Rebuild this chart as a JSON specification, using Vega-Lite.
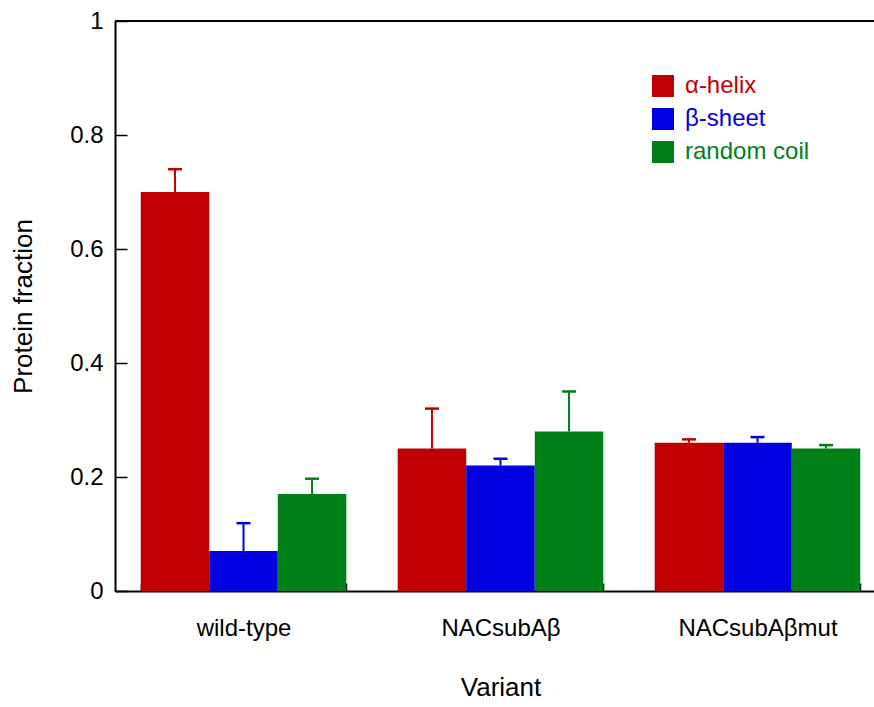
{
  "$schema": "https://vega.github.io/schema/vega-lite/v6.json",
  "autosize": {"type": "none"},
  "padding": {"left": 115, "top": 21, "right": 0, "bottom": 116},
  "width": 759,
  "height": 570,
  "background": "white",
  "config": {
    "view": {"stroke": null},
    "font": "Liberation Sans",
    "axis": {"domainColor": "black", "domainWidth": 2, "tickColor": "black", "tickWidth": 1.5, "labelFont": "Liberation Sans", "titleFont": "Liberation Sans", "labelColor": "black", "titleColor": "black", "labelFontSize": 24, "titleFontSize": 26, "titleFontWeight": "normal", "grid": false}
  },
  "data": {
    "values": [
      {"variant": "wild-type", "structure": "α-helix", "fraction": 0.70, "upper": 0.74},
      {"variant": "wild-type", "structure": "β-sheet", "fraction": 0.07, "upper": 0.119},
      {"variant": "wild-type", "structure": "random coil", "fraction": 0.17, "upper": 0.197},
      {"variant": "NACsubAβ", "structure": "α-helix", "fraction": 0.25, "upper": 0.32},
      {"variant": "NACsubAβ", "structure": "β-sheet", "fraction": 0.22, "upper": 0.232},
      {"variant": "NACsubAβ", "structure": "random coil", "fraction": 0.28, "upper": 0.35},
      {"variant": "NACsubAβmut", "structure": "α-helix", "fraction": 0.26, "upper": 0.266},
      {"variant": "NACsubAβmut", "structure": "β-sheet", "fraction": 0.26, "upper": 0.27},
      {"variant": "NACsubAβmut", "structure": "random coil", "fraction": 0.25, "upper": 0.256}
    ]
  },
  "encoding": {
    "x": {
      "field": "variant", "type": "nominal",
      "sort": ["wild-type", "NACsubAβ", "NACsubAβmut"],
      "scale": {"range": [0, 771], "paddingInner": 0.2, "paddingOuter": 0.1},
      "axis": {"title": "Variant", "labelAngle": 0, "labelFontSize": 24, "titleFontSize": 26, "tickBand": "extent", "tickSize": -8, "labelPadding": 33, "titlePadding": 34}
    },
    "xOffset": {
      "field": "structure", "type": "nominal",
      "sort": ["α-helix", "β-sheet", "random coil"],
      "scale": {"paddingInner": 0, "paddingOuter": 0}
    },
    "color": {
      "field": "structure", "type": "nominal",
      "sort": ["α-helix", "β-sheet", "random coil"],
      "scale": {"domain": ["α-helix", "β-sheet", "random coil"], "range": ["#c00000", "#0000e0", "#008018"]},
      "legend": {
        "title": null, "orient": "none", "legendX": 536, "legendY": 53, "padding": 0,
        "symbolType": "square", "symbolSize": 484, "symbolStrokeWidth": 0, "symbolOpacity": 1,
        "labelFontSize": 24, "labelFont": "Liberation Sans", "labelOffset": 10, "rowPadding": 9,
        "encode": {"labels": {"update": {"fill": {"scale": "color", "field": "value"}}}}
      }
    }
  },
  "layer": [
    {
      "mark": {"type": "bar", "opacity": 1},
      "encoding": {
        "y": {
          "field": "fraction", "type": "quantitative",
          "scale": {"domain": [0, 1], "nice": false},
          "axis": {"title": "Protein fraction", "values": [0, 0.2, 0.4, 0.6, 0.8, 1], "format": "~g", "labelFontSize": 24, "titleFontSize": 26, "tickSize": -12, "labelPadding": 24, "titlePadding": 33}
        }
      }
    },
    {
      "mark": {"type": "rule", "strokeWidth": 2},
      "encoding": {
        "y": {"field": "fraction", "type": "quantitative"},
        "y2": {"field": "upper"}
      }
    },
    {
      "mark": {"type": "tick", "size": 14, "thickness": 2.5, "opacity": 1},
      "encoding": {
        "y": {"field": "upper", "type": "quantitative"}
      }
    },
    {
      "mark": {"type": "rule", "color": "black", "strokeWidth": 2},
      "encoding": {
        "y": {"datum": 1, "type": "quantitative"},
        "x": {"value": 0},
        "x2": {"value": 771},
        "xOffset": null,
        "color": null
      }
    }
  ]
}
